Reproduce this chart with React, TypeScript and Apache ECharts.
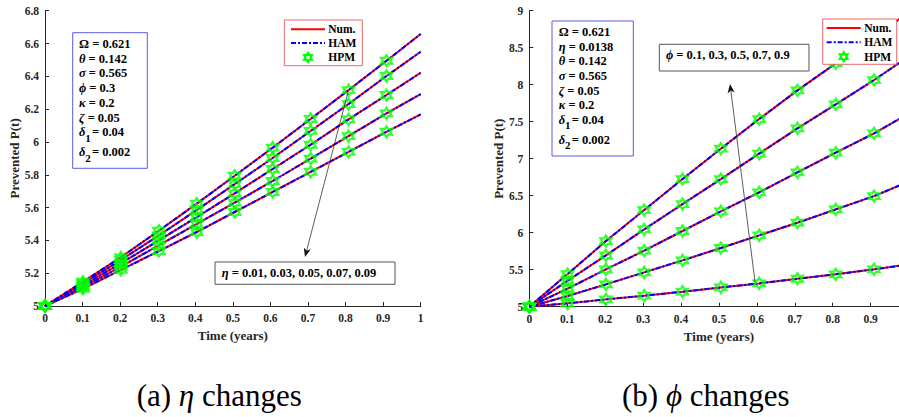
import React, { useEffect, useRef } from "react";
import * as echarts from "echarts";

// Sample times (years) where HPM markers are placed; last entry closes the curves at t = 1
const TIMES = [0, 0.101, 0.202, 0.303, 0.404, 0.505, 0.606, 0.707, 0.808, 0.909, 1];

// (a) Prevented P(t) for eta = 0.01, 0.03, 0.05, 0.07, 0.09
const ETA_CURVES = [
  [5, 5.148, 5.297, 5.459, 5.624, 5.794, 5.965, 6.14, 6.316, 6.495, 6.658],
  [5, 5.137, 5.28, 5.43, 5.585, 5.743, 5.902, 6.067, 6.231, 6.402, 6.55],
  [5, 5.125, 5.26, 5.4, 5.542, 5.687, 5.835, 5.983, 6.138, 6.286, 6.422],
  [5, 5.115, 5.24, 5.37, 5.5, 5.63, 5.762, 5.898, 6.036, 6.174, 6.292],
  [5, 5.105, 5.22, 5.335, 5.451, 5.573, 5.695, 5.817, 5.939, 6.062, 6.168],
];

// (b) Prevented P(t) for phi = 0.9, 0.7, 0.5, 0.3, 0.1
const PHI_CURVES = [
  [5, 5.441, 5.887, 6.306, 6.725, 7.135, 7.536, 7.923, 8.288, 8.64, 8.98],
  [5, 5.351, 5.694, 6.045, 6.387, 6.725, 7.068, 7.41, 7.734, 8.063, 8.38],
  [5, 5.243, 5.505, 5.757, 6.023, 6.288, 6.545, 6.815, 7.081, 7.342, 7.61],
  [5, 5.144, 5.302, 5.464, 5.626, 5.793, 5.964, 6.135, 6.315, 6.495, 6.69],
  [5, 5.045, 5.099, 5.149, 5.203, 5.261, 5.315, 5.378, 5.437, 5.505, 5.57],
];

const MARKER_COUNT = 10;

const SERIF = "'Liberation Serif', 'Times New Roman', serif";
const INK = "#262626";

// Six-pointed star used for HPM points
const HEX_PTS: [number, number][] = [
  [0, -10], [2.887, -5], [8.66, -5], [5.774, 0], [8.66, 5], [2.887, 5],
  [0, 10], [-2.887, 5], [-8.66, 5], [-5.774, 0], [-8.66, -5], [-2.887, -5],
];
const HEX_SYMBOL =
  "path://" +
  HEX_PTS.map((p, i) => `${i === 0 ? "M" : "L"}${p[0] + 10} ${p[1] + 10}`).join(" ") +
  " Z";

function buildSeries(curves: number[][], axis: number) {
  const out: any[] = [];
  curves.forEach((ys) => {
    const pts = TIMES.map((t, i) => [t, ys[i]]);
    out.push({
      type: "line", xAxisIndex: axis, yAxisIndex: axis, name: "Num.",
      data: pts, symbol: "none", showSymbol: false, silent: true, z: 2,
      lineStyle: { color: "#ff0000", width: 2 },
    });
    out.push({
      type: "line", xAxisIndex: axis, yAxisIndex: axis, name: "HAM",
      data: pts, symbol: "none", showSymbol: false, silent: true, z: 3,
      lineStyle: { color: "#0000ff", width: 2, type: [5, 2, 2, 2] },
    });
    out.push({
      type: "scatter", xAxisIndex: axis, yAxisIndex: axis, name: "HPM",
      data: pts.slice(0, MARKER_COUNT), symbol: HEX_SYMBOL, symbolSize: 11,
      silent: true, z: 4,
      itemStyle: { color: "rgba(0,0,0,0)", borderColor: "#00ff00", borderWidth: 2.3 },
    });
  });
  return out;
}

function axisPair(gridIndex: number, yMax: number, yInterval: number, showLastX: boolean) {
  const label = { fontFamily: SERIF, fontWeight: "bold", fontSize: 11.5, color: INK };
  const line = { show: true, onZero: false, lineStyle: { color: INK, width: 1 } };
  const tick = { show: true, inside: true, length: 4, lineStyle: { color: INK, width: 1 } };
  return {
    x: {
      gridIndex, type: "value", min: 0, max: 1, interval: 0.1,
      axisLine: line, axisTick: tick, splitLine: { show: false },
      axisLabel: { ...label, margin: 6, showMaxLabel: showLastX },
      name: "Time (years)", nameLocation: "middle", nameGap: 20,
      nameTextStyle: { fontFamily: SERIF, fontWeight: "bold", fontSize: 13, color: INK },
    },
    y: {
      gridIndex, type: "value", min: 5, max: yMax, interval: yInterval,
      axisLine: line, axisTick: tick, splitLine: { show: false },
      axisLabel: { ...label, margin: 6 },
      name: "Prevented P(t)", nameLocation: "middle", nameGap: 22,
      nameTextStyle: { fontFamily: SERIF, fontWeight: "bold", fontSize: 13, color: INK },
    },
  };
}

const PARAM_FONT = 12.5;
const richGreek = {
  i: { fontFamily: SERIF, fontWeight: "bold", fontStyle: "italic", fontSize: PARAM_FONT, fill: "#000" },
};

function paramText(x: number, y: number, text: string, z = 100) {
  return {
    type: "text", x, y, z,
    style: {
      text, fontFamily: SERIF, fontWeight: "bold", fontSize: PARAM_FONT, fill: "#000",
      align: "left", verticalAlign: "middle", rich: richGreek,
    },
  };
}

function deltaLine(x: number, y: number, sub: string, value: string) {
  return [
    paramText(x, y, "{i|δ}"),
    {
      type: "text", x: x + 6.3, y: y + 5.5, z: 100,
      style: { text: sub, fontFamily: SERIF, fontWeight: "bold", fontSize: 11, fill: "#000", align: "left", verticalAlign: "middle" },
    },
    paramText(x + 13, y, "= " + value),
  ];
}

function paramBox(
  box: [number, number, number, number],
  tx: number,
  rows: string[],
  ys: number[],
  deltas: [string, string][],
) {
  const els: any[] = [
    {
      type: "rect", z: 99,
      shape: { x: box[0], y: box[1], width: box[2], height: box[3] },
      style: { fill: "#fff", stroke: "#5a5ae6", lineWidth: 1 },
    },
  ];
  rows.forEach((r, i) => els.push(paramText(tx, ys[i], r)));
  deltas.forEach((d, k) => els.push(...deltaLine(tx, ys[rows.length + k], d[0], d[1])));
  return els;
}

function legendBox(x: number, y: number, w: number, h: number, rowYs: number[], lx: number, tx: number) {
  const textStyle = (t: string) => ({
    text: t, fontFamily: SERIF, fontWeight: "bold", fontSize: 11.5, fill: "#000",
    align: "left", verticalAlign: "middle",
  });
  const mx = lx + 17;
  const s = 0.45;
  return [
    { type: "rect", z: 99, shape: { x, y, width: w, height: h }, style: { fill: "#fff", stroke: "#e86a6a", lineWidth: 1 } },
    { type: "line", z: 100, shape: { x1: lx, y1: rowYs[0], x2: lx + 34, y2: rowYs[0] }, style: { stroke: "#ff0000", lineWidth: 2 } },
    { type: "text", z: 100, x: tx, y: rowYs[0], style: textStyle("Num.") },
    { type: "line", z: 100, shape: { x1: lx, y1: rowYs[1], x2: lx + 34, y2: rowYs[1] }, style: { stroke: "#0000ff", lineWidth: 2, lineDash: [5, 2, 2, 2] } },
    { type: "text", z: 100, x: tx, y: rowYs[1], style: textStyle("HAM") },
    {
      type: "polygon", z: 100,
      shape: { points: HEX_PTS.map((p) => [mx + p[0] * s, rowYs[2] + p[1] * s]) },
      style: { fill: "none", stroke: "#00ff00", lineWidth: 2.2 },
    },
    { type: "text", z: 100, x: tx, y: rowYs[2], style: textStyle("HPM") },
  ];
}

function noteBox(x: number, y: number, w: number, h: number, tx: number, ty: number, text: string) {
  return [
    { type: "rect", z: 99, shape: { x, y, width: w, height: h }, style: { fill: "#fff", stroke: "#555", lineWidth: 1 } },
    {
      type: "text", z: 100, x: tx, y: ty,
      style: {
        text, fontFamily: SERIF, fontWeight: "bold", fontSize: 12.5, fill: "#000",
        align: "left", verticalAlign: "middle", rich: richGreek,
      },
    },
  ];
}

function arrow(x1: number, y1: number, x2: number, y2: number) {
  const dx = x2 - x1, dy = y2 - y1;
  const L = Math.hypot(dx, dy);
  const ux = dx / L, uy = dy / L;
  const hl = 9, hw = 3.6, notch = 2.5;
  const bx = x2 - ux * hl, by = y2 - uy * hl;
  const px = -uy, py = ux;
  return [
    { type: "line", z: 98, shape: { x1, y1, x2: bx + ux * notch, y2: by + uy * notch }, style: { stroke: "#333", lineWidth: 0.8 } },
    {
      type: "polygon", z: 98,
      shape: {
        points: [
          [x2, y2],
          [bx + px * hw, by + py * hw],
          [bx + ux * notch, by + uy * notch],
          [bx - px * hw, by - py * hw],
        ],
      },
      style: { fill: "#111" },
    },
  ];
}

function caption(x: number, text: string) {
  return {
    type: "text", x, y: 395,
    style: {
      text, fontFamily: SERIF, fontSize: 31, fill: "#000", align: "left", verticalAlign: "middle",
      rich: { i: { fontFamily: SERIF, fontStyle: "italic", fontSize: 31, fill: "#000" } },
    },
  };
}

export default function App() {
  const ref = useRef<HTMLDivElement>(null);

  useEffect(() => {
    if (!ref.current) return;
    const chart = echarts.init(ref.current, undefined, { renderer: "svg" });
    const a = axisPair(0, 6.8, 0.2, true);
    const b = axisPair(1, 9, 0.5, false);

    const graphics: any[] = [
      ...paramBox(
        [72.7, 32.7, 74.6, 135.6], 79,
        ["Ω = 0.621", "{i|θ} = 0.142", "{i|σ} = 0.565", "{i|ϕ} = 0.3", "{i|κ} = 0.2", "{i|ζ} = 0.05"],
        [44, 58.7, 73.3, 88.3, 103, 117.7, 132, 152],
        [["1", "0.04"], ["2", "0.002"]],
      ),
      ...paramBox(
        [552, 21, 81.3, 135], 558.7,
        ["Ω = 0.621", "{i|η} = 0.0138", "{i|θ} = 0.142", "{i|σ} = 0.565", "{i|ζ} = 0.05", "{i|κ} = 0.2"],
        [32.3, 46.7, 61.3, 76.3, 90.7, 105.3, 119.7, 139.7],
        [["1", "0.04"], ["2", "0.002"]],
      ),
      ...legendBox(284.3, 20, 78, 45.7, [29.3, 43, 57.3], 291, 328.3),
      ...legendBox(822.7, 19, 74, 45.3, [28, 42.3, 56.7], 826.7, 864.3),
      ...noteBox(215, 262, 180, 22.3, 221.7, 273.3, "{i|η} = 0.01, 0.03, 0.05, 0.07, 0.09"),
      ...noteBox(659.3, 44.3, 149.7, 26.7, 666, 55.3, "{i|ϕ} = 0.1, 0.3, 0.5, 0.7, 0.9"),
      ...arrow(348.3, 91, 305, 257),
      ...arrow(755, 281.7, 730, 84),
      caption(136.7, "(a) {i|η} changes"),
      caption(622, "(b) {i|ϕ} changes"),
    ];

    chart.setOption({
      animation: false,
      backgroundColor: "#fff",
      grid: [
        { left: 45, top: 10.7, width: 375.7, height: 295.3, outerBoundsMode: "none", containLabel: false },
        { left: 529.3, top: 10.7, width: 379.3, height: 296, outerBoundsMode: "none", containLabel: false },
      ],
      xAxis: [a.x, b.x],
      yAxis: [a.y, b.y],
      series: [...buildSeries(ETA_CURVES, 0), ...buildSeries(PHI_CURVES, 1)],
      graphic: graphics,
    });
    return () => chart.dispose();
  }, []);

  return (
    <div
      ref={ref}
      style={{ position: "absolute", left: 0, top: 0, width: 899, height: 417, background: "#fff" }}
    />
  );
}
